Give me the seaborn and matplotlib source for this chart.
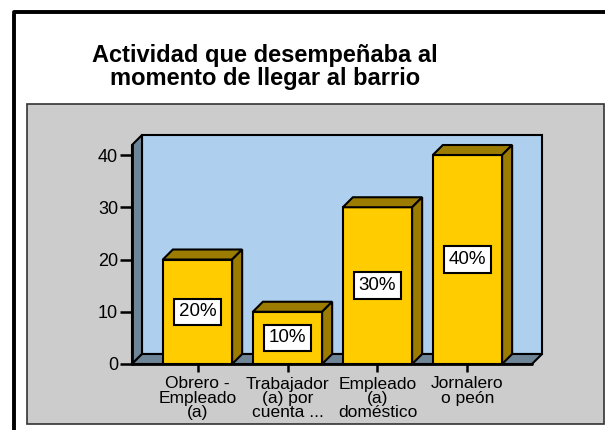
import matplotlib
matplotlib.use("Agg")
import matplotlib.pyplot as plt
import seaborn as sns
from matplotlib.patches import Polygon, Rectangle
from matplotlib.lines import Line2D

# data
categories = ["Obrero -\nEmpleado\n(a)", "Trabajador\n(a) por\ncuenta ...",
              "Empleado\n(a)\ndoméstico", "Jornalero\no peón"]
values = [20, 10, 30, 40]
pct_labels = ["20%", "10%", "30%", "40%"]
yticks = [0, 10, 20, 30, 40]
title = "Actividad que desempeñaba al\nmomento de llegar al barrio"

sns.set_style("white")
plt.rcParams['font.family'] = ['Liberation Sans', 'DejaVu Sans']
plt.rcParams['text.color'] = 'black'
plt.rcParams['xtick.color'] = 'black'
plt.rcParams['ytick.color'] = 'black'
plt.rcParams['axes.labelcolor'] = 'black'

face = "#ffcc00"
shade = "#9c7c00"
wall_blue = "#aed0ee"
slate = "#6e8497"
panel = "#cccccc"

fig = plt.figure(figsize=(6.05, 4.3), dpi=100)
fig.patch.set_facecolor("white")

# outer frame (left + top) and grey panel
fig.add_artist(Line2D([13.5/605, 13.5/605], [0, 1 - 13.5/430], color="black", lw=2.8))
fig.add_artist(Line2D([13.5/605, 1.0], [1 - 12/430, 1 - 12/430], color="black", lw=2.8))
fig.add_artist(Rectangle((27/605, 1 - 424/430), (604 - 27)/605, (424 - 104)/430,
                         transform=fig.transFigure, facecolor=panel,
                         edgecolor="#333333", lw=1.2, zorder=-1))

fig.text(265/605, 1 - 67/430, title, ha="center", va="center",
         fontsize=17, fontweight="bold", linespacing=1.05)

ax = fig.add_axes([132/605, 1 - 364/430, 410/605, 229/430])
ax.patch.set_facecolor("none")

sns.barplot(x=categories, y=values, color=face, saturation=1, width=0.77,
            edgecolor="black", linewidth=1.5, ax=ax, zorder=2)

x0, x1 = -0.728, 3.828
ymax = 43.83
dx, dy = 10/90, 10/5.225
ax.set_xlim(x0, x1)
ax.set_ylim(0, ymax)

# walls / floor
ax.add_patch(Rectangle((x0 + dx, dy), x1 - x0 - dx, ymax - dy, facecolor=wall_blue,
                       edgecolor="black", lw=1.5, zorder=0.2, clip_on=False))
ax.add_patch(Polygon([(x0, 0), (x0 + dx, dy), (x0 + dx, ymax), (x0, ymax - dy)],
                     facecolor=slate, edgecolor="black", lw=1.5, zorder=0.3, clip_on=False))
ax.add_patch(Polygon([(x0, 0), (x0 + dx, dy), (x1, dy), (x1 - dx, 0)],
                     facecolor=slate, edgecolor="black", lw=1.5, zorder=0.3, clip_on=False))
ax.plot([x0, x0], [0, ymax - dy], color="black", lw=2, zorder=1, clip_on=False)
ax.plot([x0, x1 - dx], [0, 0], color="black", lw=2, zorder=1, clip_on=False)

# 3d top and side of every bar
for p, lab in zip(ax.patches[:len(values)], pct_labels):
    x, w, h = p.get_x(), p.get_width(), p.get_height()
    ax.add_patch(Polygon([(x, h), (x + dx, h + dy), (x + w + dx, h + dy), (x + w, h)],
                         facecolor=shade, edgecolor="black", lw=1.5, zorder=2.5, clip_on=False))
    ax.add_patch(Polygon([(x + w, 0), (x + w + dx, dy), (x + w + dx, h + dy), (x + w, h)],
                         facecolor=shade, edgecolor="black", lw=1.5, zorder=2.5, clip_on=False))
    ax.text(x + w/2, h/2, lab, ha="center", va="center", fontsize=13.5, zorder=4,
            bbox=dict(boxstyle="square,pad=0.25", facecolor="white", edgecolor="black", lw=1.5))

for s in ax.spines.values():
    s.set_visible(False)
ax.set_yticks(yticks)
ax.tick_params(axis="y", left=True, length=9, width=1.8, pad=1, labelsize=13)
ax.tick_params(axis="x", bottom=True, length=6, width=1.8, pad=3, labelsize=12.5)
for t in ax.get_xticklabels():
    t.set_linespacing(0.95)
ax.set_xlabel("")
ax.set_ylabel("")

fig.savefig("out.png", dpi=100)
